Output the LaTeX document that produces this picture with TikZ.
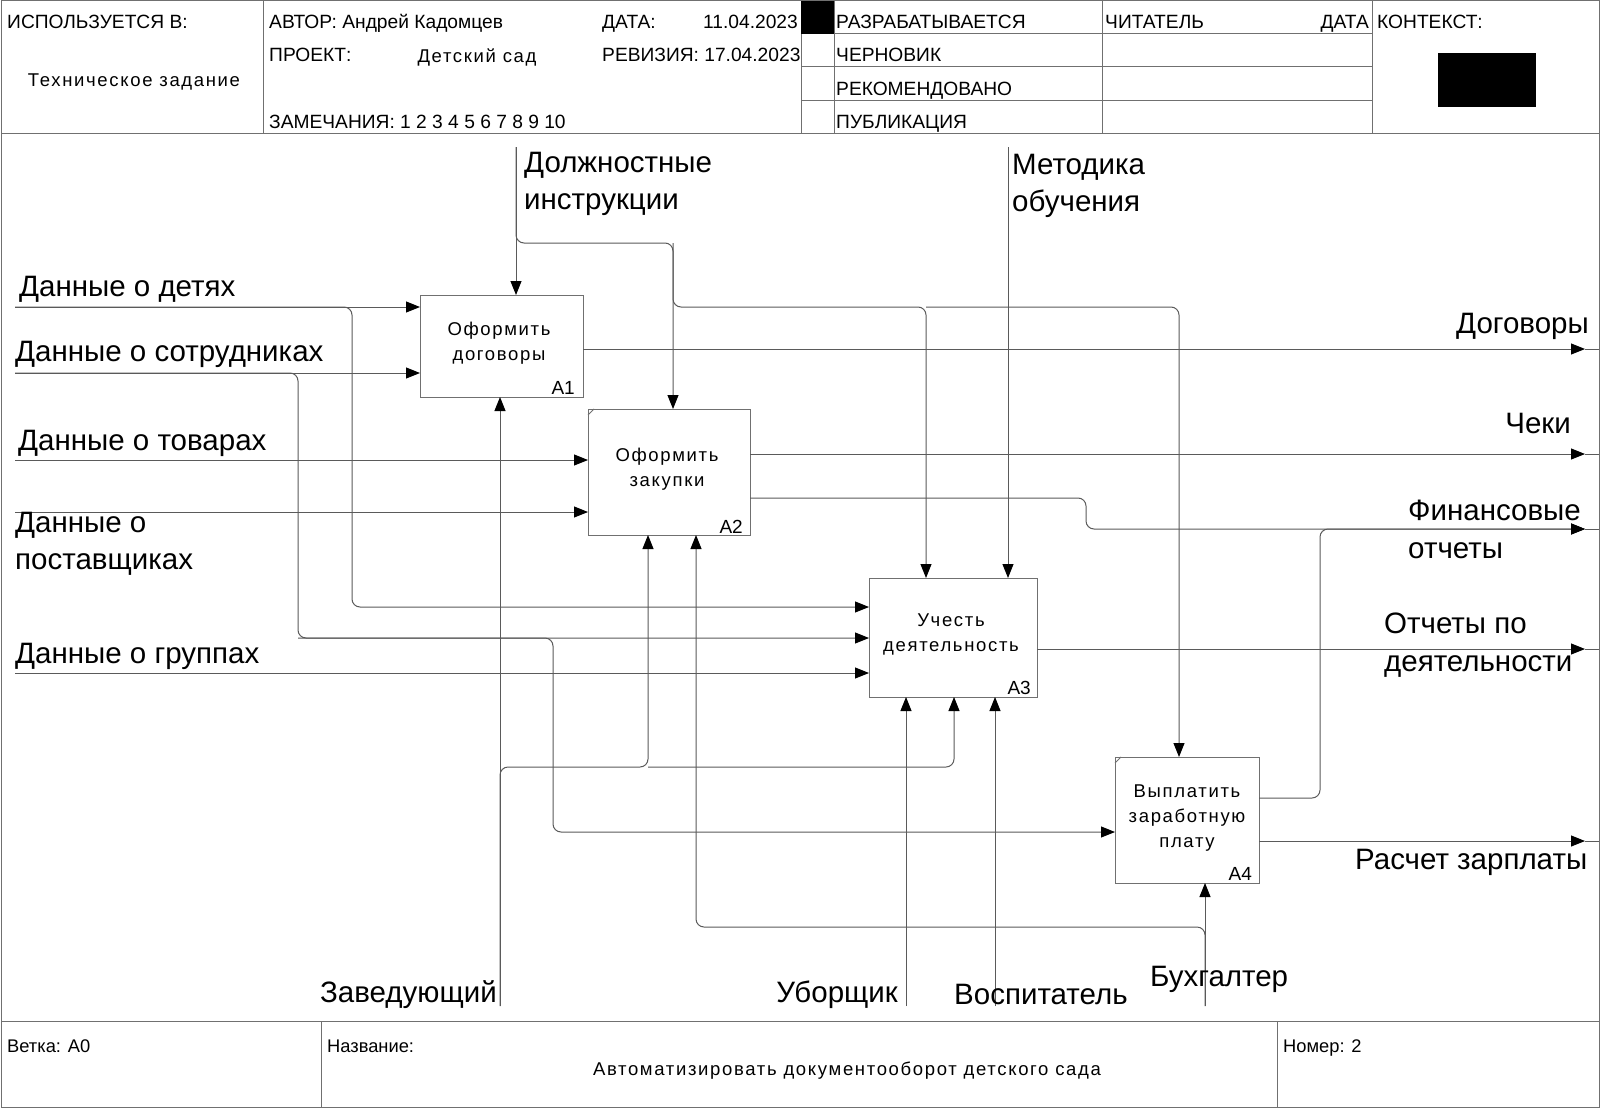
\documentclass[tikz,border=0pt]{standalone}
\usepackage{fontspec}
\setmainfont{Liberation Sans}
\newfontfamily\spacedfont[LetterSpace=9]{Liberation Sans}
\usetikzlibrary{arrows.meta,calc}
\definecolor{linegray}{HTML}{5A5A5A}
\definecolor{framegray}{HTML}{707070}
\begin{document}
\begin{tikzpicture}[x=1pt,y=-1pt,
  frame/.style={draw=framegray, line width=1pt},
  wire/.style={draw=linegray, line width=1pt, rounded corners=8pt},
  conn/.style={wire, -{Triangle[length=14pt,width=11pt,color=black]}},
  box/.style={draw=framegray, line width=1pt, inner sep=0pt, outer sep=0pt},
  big/.style={inner sep=0pt, font=\fontsize{29.5}{35}\selectfont},
  btxt/.style={inner sep=0pt, anchor=base, font=\spacedfont\fontsize{18.5}{22}\selectfont},
  idtxt/.style={inner sep=0pt, anchor=base east, font=\fontsize{19}{22}\selectfont},
  hdr/.style={inner sep=0pt, anchor=base west, font=\fontsize{19.2}{22}\selectfont},
  ftr/.style={inner sep=0pt, anchor=base west, font=\fontsize{18.3}{22}\selectfont},
  hdrsp/.style={inner sep=0pt, anchor=base, font=\spacedfont\fontsize{18.5}{22}\selectfont},
  ]
\useasboundingbox (0,0) rectangle (1600,1108);
\fill[white] (0,0) rectangle (1600,1108);

% ---------- frame ----------
\draw[frame] (1,1) rectangle (1599,1107);
\draw[frame] (1,133) -- (1599,133);
\draw[frame] (263,1) -- (263,133);
\draw[frame] (801,1) -- (801,133);
\draw[frame] (834,1) -- (834,133);
\draw[frame] (1102,1) -- (1102,133);
\draw[frame] (1372,1) -- (1372,133);
\draw[frame] (801,34) -- (1372,34);
\draw[frame] (801,67) -- (1372,67);
\draw[frame] (801,100) -- (1372,100);
\fill[black] (801,1) rectangle (834,34);
\fill[black] (1438,53) rectangle (1536,107);
\draw[frame] (1,1021) -- (1599,1021);
\draw[frame] (321,1021) -- (321,1107);
\draw[frame] (1277,1021) -- (1277,1107);

% ---------- header texts ----------
\node[hdr] (h1) at (7,29) {ИСПОЛЬЗУЕТСЯ В:};
\node[hdrsp] (h2) at (134,86) {Техническое задание};
\node[hdr] (h3) at (269,29) {АВТОР: Андрей Кадомцев};
\node[hdr] (h4) at (602,29) {ДАТА:};
\node[hdr, anchor=base east] (h5) at (798,29) {11.04.2023};
\node[hdr] (h6) at (269,62) {ПРОЕКТ:};
\node[hdrsp] (h7) at (477,63) {Детский сад};
\node[hdr] (h8) at (602,62) {РЕВИЗИЯ: 17.04.2023};
\node[hdr] (h9) at (269,128) {ЗАМЕЧАНИЯ: 1 2 3 4 5 6 7 8 9 10};
\node[hdr] (h10) at (836,29) {РАЗРАБАТЫВАЕТСЯ};
\node[hdr] (h11) at (836,62) {ЧЕРНОВИК};
\node[hdr] (h12) at (836,95) {РЕКОМЕНДОВАНО};
\node[hdr] (h13) at (836,128) {ПУБЛИКАЦИЯ};
\node[hdr] (h14) at (1105,29) {ЧИТАТЕЛЬ};
\node[hdr, anchor=base east] (h15) at (1369,29) {ДАТА};
\node[hdr] (h16) at (1377,29) {КОНТЕКСТ:};

% ---------- footer texts ----------
\node[ftr] (f1) at (7,1052) {Ветка: A0};
\node[ftr] (f2) at (327,1052) {Название:};
\node[ftr] (f3) at (1283,1052) {Номер: 2};
\node[hdrsp] (f4) at (847,1075) {Автоматизировать документооборот детского сада};

% ---------- boxes ----------
\node[box, minimum width=163pt, minimum height=102pt] (A1) at (501.5,346) {};
\node[box, minimum width=162pt, minimum height=126pt] (A2) at (669,472) {};
\node[box, minimum width=168pt, minimum height=119pt] (A3) at (953,637.5) {};
\node[box, minimum width=144pt, minimum height=126pt] (A4) at (1187,820) {};
\draw[frame, line width=0.8pt] ($(A2.north west)+(0,6)$) -- ($(A2.north west)+(6,0)$);
\draw[frame, line width=0.8pt] ($(A4.north west)+(0,6)$) -- ($(A4.north west)+(6,0)$);

\node[btxt] (A1t1) at (499,335) {Оформить};
\node[btxt] (A1t2) at (499,360) {договоры};
\node[btxt] (A2t1) at (667,461) {Оформить};
\node[btxt] (A2t2) at (667,486) {закупки};
\node[btxt] (A3t1) at (951,626) {Учесть};
\node[btxt] (A3t2) at (951,651) {деятельность};
\node[btxt] (A4t1) at (1187,797) {Выплатить};
\node[btxt] (A4t2) at (1187,822) {заработную};
\node[btxt] (A4t3) at (1187,847) {плату};

\node[idtxt] (A1id) at ($(A1.south east)+(-8,-3)$) {A1};
\node[idtxt] (A2id) at ($(A2.south east)+(-7,-2)$) {A2};
\node[idtxt] (A3id) at ($(A3.south east)+(-6,-3)$) {A3};
\node[idtxt] (A4id) at ($(A4.south east)+(-7,-3)$) {A4};

% ---------- coordinates ----------
\coordinate (i1) at (15,307);
\coordinate (i2) at (15,373);
\coordinate (i3) at (15,460);
\coordinate (i4) at (15,512);
\coordinate (i5) at (15,673);
\coordinate (b1) at (352,607);
\coordinate (b2) at (298,638);
\coordinate (b3) at (553,832);
\coordinate (t1) at (516,147);
\coordinate (t2) at (1008,147);
\coordinate (b4) at (673,243);
\coordinate (b5) at (926,307);
\coordinate (b6) at (1179,307);
\coordinate (m1) at (500,1006);
\coordinate (m2) at (906,1006);
\coordinate (m3) at (995,1006);
\coordinate (m4) at (1205,1006);
\coordinate (b7) at (648,767);
\coordinate (b8) at (954,767);
\coordinate (b9) at (696,927);
\coordinate (o1) at (1585,349);
\coordinate (o2) at (1585,454);
\coordinate (o3) at (1585,529);
\coordinate (o4) at (1585,649);
\coordinate (o5) at (1585,841);
\coordinate (b10) at (1086,498);
\coordinate (b11) at (1320,798);
\coordinate (edge) at (1599,0);

% ---------- inputs ----------
\draw[conn] (i1) -- (i1 -| A1.west);
\draw[conn] (i1) -| (b1) -- (b1 -| A3.west);
\draw[conn] (i2) -- (i2 -| A1.west);
\draw[conn] (i2) -| (b2) -- (b2 -| A3.west);
\draw[conn] (b2) -| (b3) -- (b3 -| A4.west);
\draw[conn] (i3) -- (i3 -| A2.west);
\draw[conn] (i4) -- (i4 -| A2.west);
\draw[conn] (i5) -- (i5 -| A3.west);

% ---------- controls ----------
\draw[conn] (t1) -- (t1 |- A1.north);
\draw[conn] (t1) |- (b4) -- (b4 |- A2.north);
\draw[conn] (b4) |- (b5) -- (b5 |- A3.north);
\draw[conn] (b5) -- (b6) -- (b6 |- A4.north);
\draw[conn] (t2) -- (t2 |- A3.north);

% ---------- mechanisms ----------
\draw[conn] (m1) -- (m1 |- A1.south);
\draw[conn] (m1) |- (b7) -- (b7 |- A2.south);
\draw[conn] (b7) -- (b8) -- (b8 |- A3.south);
\draw[conn] (m2) -- (m2 |- A3.south);
\draw[conn] (m3) -- (m3 |- A3.south);
\draw[conn] (m4) -- (m4 |- A4.south);
\draw[conn] (m4) |- (b9) -- (b9 |- A2.south);

% ---------- outputs ----------
\draw[conn] (o1 -| A1.east) -- (o1);
\draw[conn] (o2 -| A2.east) -- (o2);
\draw[conn] (b10 -| A2.east) -- (b10) |- (o3);
\draw[conn] (b11 -| A4.east) -- (b11) |- (o3);
\draw[conn] (o4 -| A3.east) -- (o4);
\draw[conn] (o5 -| A4.east) -- (o5);
\draw[wire] (o1) -- (o1 -| edge);
\draw[wire] (o2) -- (o2 -| edge);
\draw[wire] (o3) -- (o3 -| edge);
\draw[wire] (o4) -- (o4 -| edge);
\draw[wire] (o5) -- (o5 -| edge);

% ---------- labels ----------
\node[big, anchor=base west] (l1) at (19,296) {Данные о детях};
\node[big, anchor=base west] (l2) at (15,361.5) {Данные о сотрудниках};
\node[big, anchor=base west] (l3) at (18,450.5) {Данные о товарах};
\node[big, anchor=base west] (l4a) at (15,532) {Данные о};
\node[big, anchor=base west] (l4b) at (15,569) {поставщиках};
\node[big, anchor=base west] (l5) at (15,663.5) {Данные о группах};
\node[big, anchor=base west] (l6a) at (524,172) {Должностные};
\node[big, anchor=base west] (l6b) at (524,209) {инструкции};
\node[big, anchor=base west] (l7a) at (1012,174) {Методика};
\node[big, anchor=base west] (l7b) at (1012,211) {обучения};
\node[big, anchor=base east] (l8) at (1589,333) {Договоры};
\node[big, anchor=base east] (l9) at (1571,433.5) {Чеки};
\node[big, anchor=base west] (l10a) at (1408,520) {Финансовые};
\node[big, anchor=base west] (l10b) at (1408,558) {отчеты};
\node[big, anchor=base west] (l11a) at (1384,633) {Отчеты по};
\node[big, anchor=base west] (l11b) at (1384,671) {деятельности};
\node[big, anchor=base west] (l12) at (1355,869.5) {Расчет зарплаты};
\node[big, anchor=base east] (l13) at (497,1002) {Заведующий};
\node[big, anchor=base east] (l14) at (898,1002) {Уборщик};
\node[big, anchor=base west] (l15) at (954,1004.5) {Воспитатель};
\node[big, anchor=base west] (l16) at (1150,986) {Бухгалтер};
\end{tikzpicture}
\end{document}
